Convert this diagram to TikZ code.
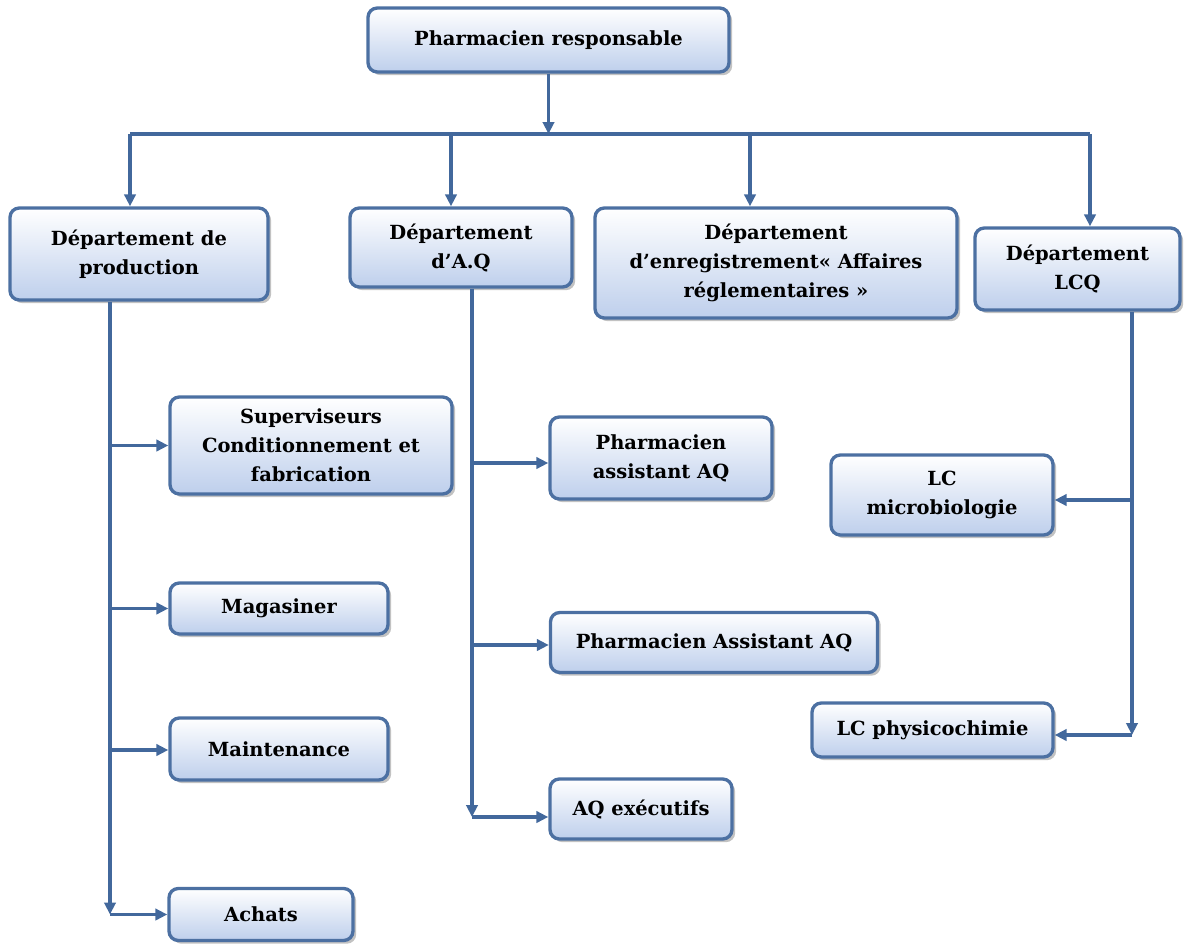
\documentclass[tikz,border=0pt]{standalone}
\usepackage{fontspec}
\setmainfont{DejaVu Serif}
\usetikzlibrary{arrows.meta,shadows,calc}
\definecolor{bdr}{RGB}{76,112,162}
\definecolor{lnc}{RGB}{66,104,156}
\definecolor{boxbot}{RGB}{190,207,236}
\tikzset{
  box/.style 2 args={draw=bdr, line width=2.5pt, rounded corners=7pt,
    top color=white, bottom color=boxbot,
    drop shadow={shadow xshift=2.4pt, shadow yshift=-2.4pt, opacity=0.4, fill=black!60},
    align=center, inner sep=0pt,
    font=\bfseries\fontsize{14.6}{21.75}\selectfont,
    minimum width=#1*0.75pt, minimum height=#2*0.75pt},
  conn/.style={draw=lnc, line width=2.6pt},
  arr/.style={conn, -{Triangle[length=9pt,width=8.5pt]}}
}
\begin{document}
\begin{tikzpicture}[x=0.75pt,y=-0.75pt]
\useasboundingbox (0,0) rectangle (1189,943);
% nodes
\node[box={361}{64}] (top) at (548.5,40) {Pharmacien responsable};
\node[box={258}{92}] (prod) at (139,254) {Département de\\production};
\node[box={222}{79}] (aq) at (461,247.5) {Département\\d’A.Q};
\node[box={362}{110}] (enr) at (776,263) {Département\\d’enregistrement« Affaires\\réglementaires »};
\node[box={205}{82}] (lcq) at (1077.5,269) {Département\\LCQ};
\node[box={282}{97}] (sup) at (311,445.5) {Superviseurs\\Conditionnement et\\fabrication};
\node[box={218}{51}] (mag) at (279,608.5) {Magasiner};
\node[box={218}{62}] (mai) at (279,749) {Maintenance};
\node[box={184}{52}] (ach) at (261,914.5) {Achats};
\node[box={222}{82}] (paq1) at (661,458) {Pharmacien\\assistant AQ};
\node[box={327}{60}] (paq2) at (714,642.5) {Pharmacien Assistant AQ};
\node[box={182}{60}] (aqe) at (641,809) {AQ exécutifs};
\node[box={222}{80}] (lcm) at (942,495) {LC\\microbiologie};
\node[box={241}{54}] (lcp) at (932.5,730) {LC physicochimie};
% coordinates
\coordinate (bL) at (130,134);
\coordinate (b2) at (451,134);
\coordinate (b3) at (750,134);
\coordinate (bR) at (1090,134);
\coordinate (pT) at (110,0);
\coordinate (aT) at (472,0);
\coordinate (lT) at (1132,0);
% top level
\draw[arr] (top.south) -- (top.south |- bL);
\draw[conn] (bL) -- (bR);
\draw[arr] (bL) -- (bL |- prod.north);
\draw[arr] (b2) -- (b2 |- aq.north);
\draw[arr] (b3) -- (b3 |- enr.north);
\draw[arr] (bR) -- (bR |- lcq.north);
% production
\draw[arr] (prod.south -| pT) -- (pT |- ach.west);
\draw[arr] (pT |- sup.west) -- (sup.west);
\draw[arr] (pT |- mag.west) -- (mag.west);
\draw[arr] ($(pT |- mai.west)+(0,1)$) -- ($(mai.west)+(0,1)$);
\draw[arr] (pT |- ach.west) -- (ach.west);
% AQ
\draw[arr] (aq.south -| aT) -- ($(aT |- aqe.west)+(0,8)$);
\draw[arr] ($(aT |- paq1.west)+(0,5)$) -- ($(paq1.west)+(0,5)$);
\draw[arr] ($(aT |- paq2.west)+(0,2.5)$) -- ($(paq2.west)+(0,2.5)$);
\draw[arr] ($(aT |- aqe.west)+(0,8)$) -- ($(aqe.west)+(0,8)$);
% LCQ
\draw[arr] (lcq.south -| lT) -- ($(lT |- lcp.east)+(0,5)$);
\draw[arr] ($(lT |- lcm.east)+(0,5)$) -- ($(lcm.east)+(0,5)$);
\draw[arr] ($(lT |- lcp.east)+(0,5)$) -- ($(lcp.east)+(0,5)$);
\end{tikzpicture}
\end{document}
